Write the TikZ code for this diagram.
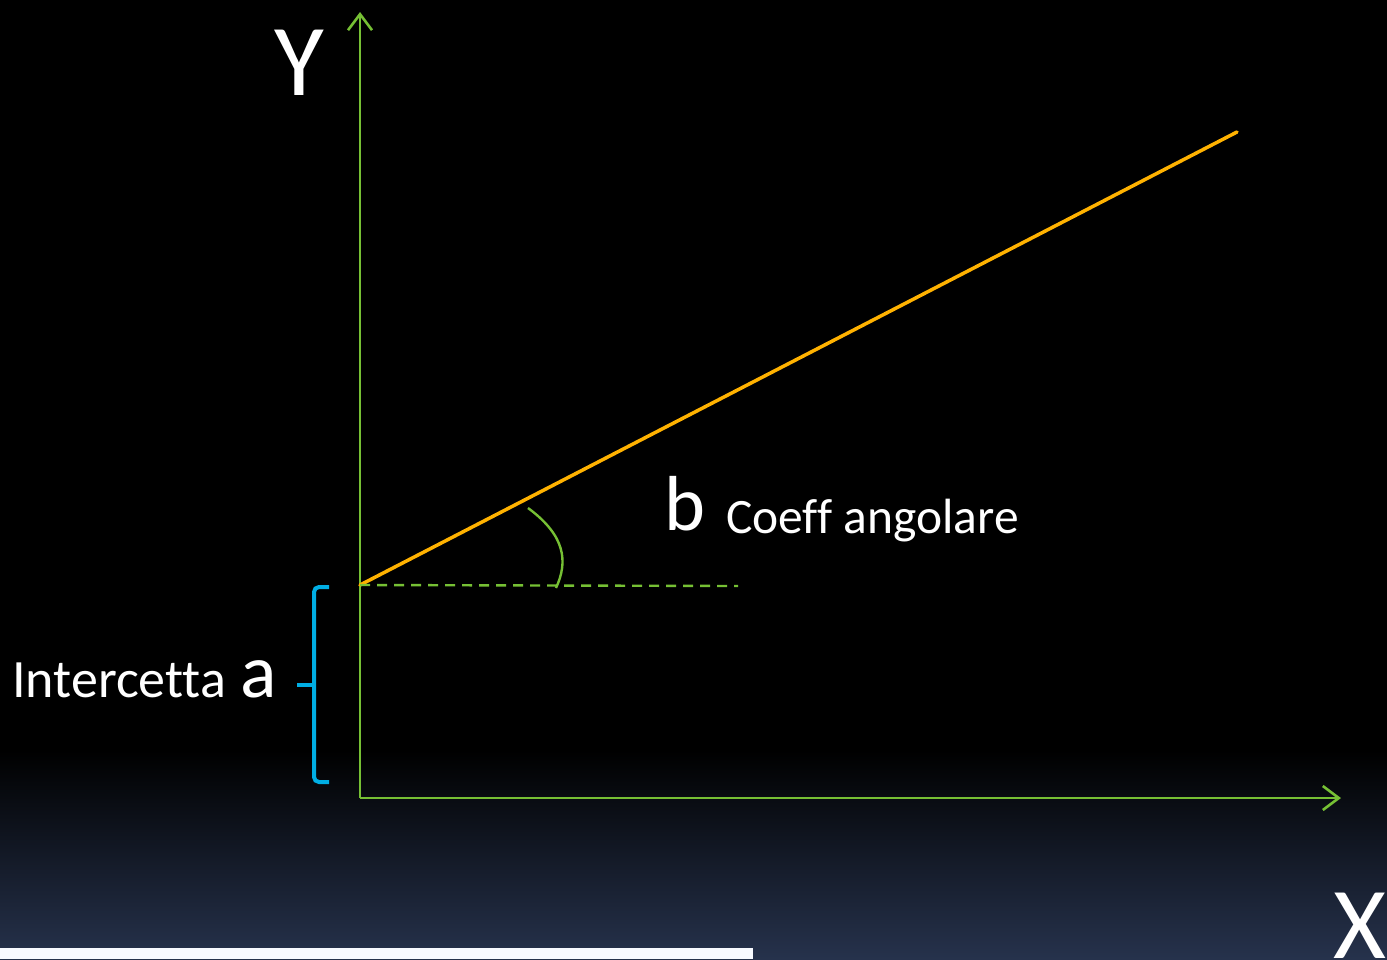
\documentclass[tikz,border=0pt]{standalone}
\usepackage{fontspec}
\setmainfont[Ligatures=NoCommon]{Carlito}
\usetikzlibrary{arrows.meta}
\definecolor{axisgreen}{RGB}{118,192,52}
\definecolor{lineorange}{RGB}{255,178,0}
\definecolor{braceblue}{RGB}{0,174,228}
\definecolor{bgblue}{RGB}{38,50,76}
\definecolor{stripwhite}{RGB}{248,250,255}
\tikzset{
  axisline/.style={draw=axisgreen, line width=2.6pt, -{Straight Barb[length=16pt,width=24pt,line width=2.6pt]}},
  regline/.style={draw=lineorange, line width=3.5pt},
  guide/.style={draw=axisgreen, line width=2.4pt, dash pattern=on 10pt off 7pt},
  anglearc/.style={draw=axisgreen, line width=2.4pt},
  bracket/.style={draw=braceblue, line width=4pt, rounded corners=5pt},
  lbl/.style={text=white, inner sep=0pt, anchor=base west}
}
\begin{document}
\begin{tikzpicture}[x=1pt,y=-1pt]
\useasboundingbox (0,0) rectangle (1387,959);
\fill[black] (0,0) rectangle (1387,959);
\shade[top color=black, bottom color=bgblue] (0,750) rectangle (1387,959);
\fill[stripwhite] (0,948) rectangle (753,959);
% axes
\coordinate (O) at (360,798);
\coordinate (Ytip) at (360,12);
\coordinate (Xtip) at (1341,798);
\draw[axisline] (O) -- (Ytip);
\draw[axisline] (O) -- (Xtip);
% regression line
\coordinate (A) at (360,585);
\coordinate (E) at (1237,132);
\draw[regline, line cap=round] (A) -- (E);
% dashed horizontal
\coordinate (D) at (738,586);
\draw[guide] (A) -- (D);
% angle arc
\coordinate (R1) at (528,508);
\coordinate (R2) at (556,588);
\draw[anglearc] (R1) .. controls (566,536) and (568,562) .. (R2);
% brace
\coordinate (Bt) at (329,587);
\coordinate (Bb) at (329,782);
\coordinate (Bm) at (297,685);
\draw[bracket] (Bt) -- (314,587) -- (314,782) -- (Bb);
\draw[draw=braceblue, line width=4pt] (Bm) -- (314,685);
% labels
\node[lbl, font=\fontsize{102}{102}\selectfont] (ylab) at (274,95) {Y};
\node[lbl, font=\fontsize{102}{102}\selectfont] (xlab) at (1333,958) {X};
\node[lbl, font=\fontsize{78}{78}\selectfont] (blab) at (664,530) {b};
\node[lbl, font=\fontsize{49.5}{49.5}\selectfont] (coeff) at (726,533) {Coeff angolare};
\node[lbl, font=\fontsize{54}{54}\selectfont] (interc) at (12,697) {Intercetta};
\node[lbl, font=\fontsize{76}{76}\selectfont] (alab) at (240,697) {a};
\end{tikzpicture}
\end{document}
